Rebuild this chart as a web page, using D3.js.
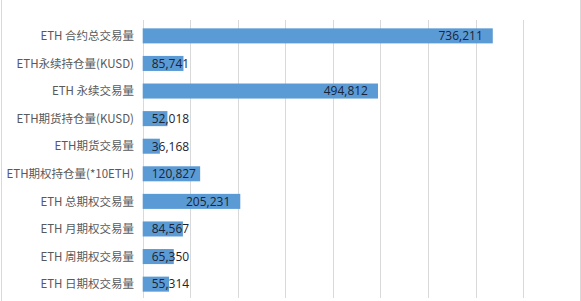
<!DOCTYPE html>
<html>
<head>
<meta charset="utf-8">
<script src="https://cdn.jsdelivr.net/npm/d3@7/dist/d3.min.js"></script>
<style>
  html, body { margin: 0; padding: 0; background: #fff; }
  svg { display: block; }
</style>
</head>
<body>
<div id="chart"></div>
<script>
const categories = [
  "ETH 合约总交易量",
  "ETH永续持仓量(KUSD)",
  "ETH 永续交易量",
  "ETH期货持仓量(KUSD)",
  "ETH期货交易量",
  "ETH期权持仓量(*10ETH)",
  "ETH 总期权交易量",
  "ETH 月期权交易量",
  "ETH 周期权交易量",
  "ETH 日期权交易量"
];
const values = [736211, 85741, 494812, 52018, 36168, 120827, 205231, 84567, 65350, 55314];
const xTicks = [0, 100000, 200000, 300000, 400000, 500000, 600000, 700000, 800000];

const W = 581, H = 301;
const svg = d3.select("#chart").append("svg").attr("width", W).attr("height", H);
svg.append("rect").attr("width", W).attr("height", H).attr("fill", "#fff");

// chart frame
svg.append("line").attr("x1", 1.5).attr("x2", 1.5).attr("y1", 0).attr("y2", H)
  .attr("stroke", "#d9d9d9").attr("stroke-width", 1);
svg.append("line").attr("x1", 580.5).attr("x2", 580.5).attr("y1", 0).attr("y2", H)
  .attr("stroke", "#d9d9d9").attr("stroke-width", 1);

const x = d3.scaleLinear().domain([0, 800000]).range([142.7, 523.1]);
const y = d3.scaleBand().domain(categories).range([22, 298]).paddingInner(0.455).paddingOuter(0.23);

// gridlines
svg.append("g").selectAll("line").data(xTicks).join("line")
  .attr("x1", d => Math.round(x(d)) + 0.5).attr("x2", d => Math.round(x(d)) + 0.5)
  .attr("y1", 20).attr("y2", 298)
  .attr("stroke", "#d9d9d9").attr("stroke-width", 1);

// bars
svg.append("g").selectAll("rect").data(values).join("rect")
  .attr("x", x(0))
  .attr("y", (d, i) => y(categories[i]))
  .attr("width", d => x(d) - x(0))
  .attr("height", y.bandwidth())
  .attr("fill", "#5b9bd5");

// category labels
svg.append("g").selectAll("text").data(categories).join("text")
  .attr("x", 134)
  .attr("y", d => y(d) + y.bandwidth() / 2)
  .attr("dy", "0.36em")
  .attr("text-anchor", "end")
  .attr("font-family", "'Noto Sans CJK SC', 'Noto Sans', sans-serif")
  .attr("font-size", 11.5)
  .attr("fill", "#595959")
  .text(d => d);

// value labels
const fmt = d3.format(",");
const vl = svg.append("g").selectAll("text").data(values).join("text")
  .attr("y", (d, i) => y(categories[i]) + y.bandwidth() / 2)
  .attr("dy", "0.36em")
  .attr("text-anchor", "end")
  .attr("font-family", "'Open Sans', 'Noto Sans', sans-serif")
  .attr("font-size", 12)
  .attr("fill", "#1c2333")
  .text(d => fmt(d));
vl.each(function(d) {
  const w = this.getComputedTextLength();
  const xe = Math.max(x(d) - 10, x(0) + 9 + w);
  d3.select(this).attr("x", xe);
});
</script>
</body>
</html>
